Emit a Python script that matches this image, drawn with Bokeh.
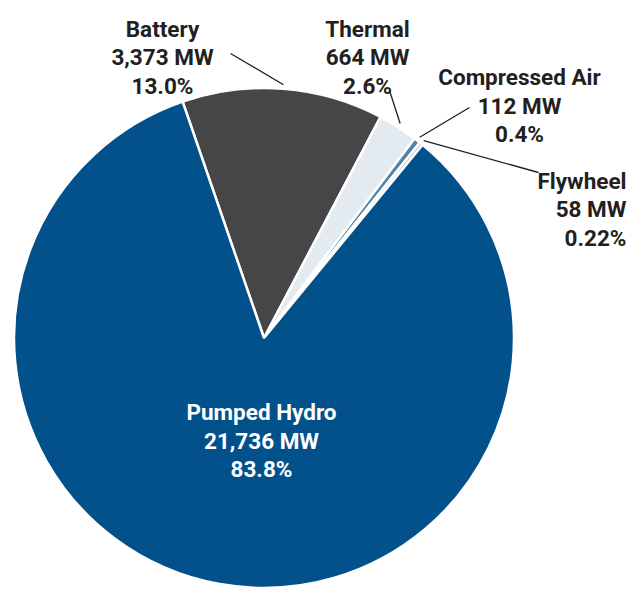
import numpy as np
from bokeh.plotting import figure
from bokeh.models import Range1d
from bokeh.core.properties import value
from bokeh.embed import file_html
from bokeh.resources import INLINE

# ---- data ----
categories = ["Battery", "Thermal", "Compressed Air", "Flywheel", "Pumped Hydro"]
capacity_mw = [3373, 664, 112, 58, 21736]
pct_labels = ["13.0%", "2.6%", "0.4%", "0.22%", "83.8%"]
colors = ["#464548", "#e3ebf1", "#4f87ae", "#bfbfbf", "#03518a"]
text_colors = ["#231f20", "#231f20", "#231f20", "#231f20", "#ffffff"]

# ---- layout (screen pixel coordinates) ----
W, H = 634, 589
CX, CY, R = 263.5, 337.5, 250.0
START = -19.0  # clockwise degrees from 12 o'clock where the first slice starts
FONT = "Roboto"
FONT_SIZE = "22.5px"
label_layout = [
    (162, "center", [28.3, 56.7, 85.0]),
    (367, "center", [28.3, 56.7, 85.0]),
    (519, "center", [76.7, 105.0, 133.0]),
    (626, "right", [180.0, 208.0, 237.0]),
    (261, "center", [411.7, 440.0, 468.0]),
]
leader_outer = [(230, 53), (389, 90), (469, 107), (538, 172), None]

p = figure(width=W, height=H,
           x_range=Range1d(0, W), y_range=Range1d(-H, 0),
           output_backend="svg", toolbar_location=None,
           x_axis_type=None, y_axis_type=None, min_border=0,
           outline_line_color=None, background_fill_color="white",
           border_fill_color="white")
p.xgrid.visible = False
p.ygrid.visible = False

vals = np.array(capacity_mw, dtype=float)
frac = vals / vals.sum()
cum = np.cumsum(frac)
theta0 = START + 360.0 * np.concatenate([[0.0], cum[:-1]])
theta1 = START + 360.0 * cum
start_ang = np.radians(90.0 - theta1)
end_ang = np.radians(90.0 - theta0)

p.wedge(x=[CX] * len(vals), y=[-CY] * len(vals), radius=R,
        start_angle=list(start_ang), end_angle=list(end_ang),
        direction="anticlock", fill_color=colors,
        line_color="white", line_width=2.5)

mid = np.radians(90.0 - (theta0 + theta1) / 2.0)
x0s, y0s, x1s, y1s = [], [], [], []
for i, outer in enumerate(leader_outer):
    if outer is None:
        continue
    rr = R + 4
    x0s.append(CX + rr * np.cos(mid[i]))
    y0s.append(-CY + rr * np.sin(mid[i]))
    x1s.append(outer[0])
    y1s.append(-outer[1])
p.segment(x0=x0s, y0=y0s, x1=x1s, y1=y1s, line_color="#231f20", line_width=1.3)

for i, cat in enumerate(categories):
    lx, align, ys = label_layout[i]
    lines = [cat, f"{capacity_mw[i]:,} MW", pct_labels[i]]
    p.text(x=[lx] * 3, y=[-y for y in ys], text=lines,
           text_font=value(FONT), text_font_size=FONT_SIZE,
           text_font_style="bold", text_color=text_colors[i],
           text_align=align, text_baseline="alphabetic")

open("out.html", "w").write(file_html(p, INLINE))
